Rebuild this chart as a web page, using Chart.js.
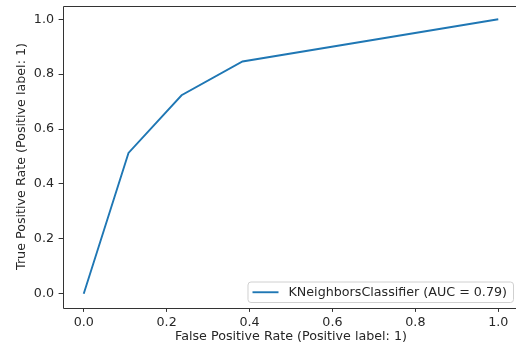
<!DOCTYPE html>
<html>
<head>
<meta charset="utf-8">
<script src="https://cdn.jsdelivr.net/npm/chart.js@4"></script>
<style>
  html, body { margin: 0; padding: 0; background: #fff; overflow: hidden; width: 516px; height: 349px; }
  #wrap { position: relative; width: 516px; height: 349px; overflow: hidden; }
  #roc { position: absolute; left: 0; top: 0; }
</style>
</head>
<body>
<div id="wrap"><canvas id="roc" width="530" height="349"></canvas></div>
<script>
// ROC curve points
const fpr = [0.0, 0.108, 0.236, 0.383, 1.0];
const tpr = [0.0, 0.513, 0.723, 0.846, 1.0];
const seriesName = 'KNeighborsClassifier (AUC = 0.79)';
const xTicks = [0.0, 0.2, 0.4, 0.6, 0.8, 1.0];
const yTicks = [0.0, 0.2, 0.4, 0.6, 0.8, 1.0];

const FONT = { family: 'DejaVu Sans', size: 12.7 };
const INK = '#262626';

// spines + legend box in the lower right corner
const framePlugin = {
  id: 'frame',
  afterDraw(chart) {
    const { ctx, chartArea: a } = chart;
    const l = Math.round(a.left) + 0.5, t = Math.round(a.top) + 0.5;
    const b = Math.round(a.bottom) + 0.5, r = Math.round(a.right) + 0.5;
    ctx.save();
    ctx.strokeStyle = '#333';
    ctx.lineWidth = 1;
    ctx.beginPath();
    ctx.moveTo(r, t); ctx.lineTo(l, t); ctx.lineTo(l, b); ctx.lineTo(r, b);
    ctx.stroke();

    // legend
    const ds = chart.data.datasets[0];
    ctx.font = '12.7px "DejaVu Sans"';
    const tw = ctx.measureText(ds.label).width;
    const w = 5 + 26 + 10 + tw + 6;
    const h = 20.5;
    const x1 = 513 - w, y1 = a.bottom - 5.5 - h;
    ctx.beginPath();
    ctx.roundRect(x1 + 0.5, y1 + 0.5, w, h, 3);
    ctx.fillStyle = 'rgba(255,255,255,0.8)';
    ctx.fill();
    ctx.strokeStyle = '#d0d0d0';
    ctx.stroke();
    const cy = y1 + h / 2 + 0.5;
    ctx.beginPath();
    ctx.moveTo(x1 + 5, cy);
    ctx.lineTo(x1 + 31, cy);
    ctx.strokeStyle = ds.borderColor;
    ctx.lineWidth = 1.9;
    ctx.stroke();
    ctx.fillStyle = INK;
    ctx.textBaseline = 'middle';
    ctx.textAlign = 'left';
    ctx.fillText(ds.label, x1 + 41, cy);
    ctx.restore();
  }
};

new Chart(document.getElementById('roc'), {
  type: 'line',
  data: {
    datasets: [{
      label: seriesName,
      data: fpr.map((x, i) => ({ x: x, y: tpr[i] })),
      borderColor: '#1f77b4',
      borderWidth: 1.9,
      pointRadius: 0,
      tension: 0,
      fill: false
    }]
  },
  options: {
    responsive: false,
    animation: false,
    layout: { padding: { top: 5.5, right: 11, left: 0, bottom: 0 } },
    plugins: { legend: { display: false }, tooltip: { enabled: false } },
    scales: {
      x: {
        type: 'linear',
        min: -0.05,
        max: 1.05,
        afterBuildTicks: s => { s.ticks = xTicks.map(v => ({ value: v })); },
        afterFit: s => { s.height = 41.5; s.paddingLeft = 0; s.paddingRight = 0; },
        ticks: { color: INK, font: FONT, padding: 3, maxRotation: 0,
                 callback: v => v.toFixed(1) },
        grid: { drawOnChartArea: false, drawTicks: true, tickLength: 4.4, color: '#333' },
        border: { display: false },
        title: { display: true, text: 'False Positive Rate (Positive label: 1)',
                 color: INK, font: FONT, padding: { top: 0, bottom: 4.4 } }
      },
      y: {
        type: 'linear',
        min: -0.05,
        max: 1.05,
        afterBuildTicks: s => { s.ticks = yTicks.map(v => ({ value: v })); },
        afterFit: s => { s.width = 63; s.paddingTop = 0; s.paddingBottom = 0; },
        ticks: { color: INK, font: FONT, padding: 4.6,
                 callback: v => v.toFixed(1) },
        grid: { drawOnChartArea: false, drawTicks: true, tickLength: 4.4, color: '#333' },
        border: { display: false },
        title: { display: true, text: 'True Positive Rate (Positive label: 1)',
                 color: INK, font: FONT, padding: { top: 14.4, bottom: 0 } }
      }
    }
  },
  plugins: [framePlugin]
});
</script>
</body>
</html>
